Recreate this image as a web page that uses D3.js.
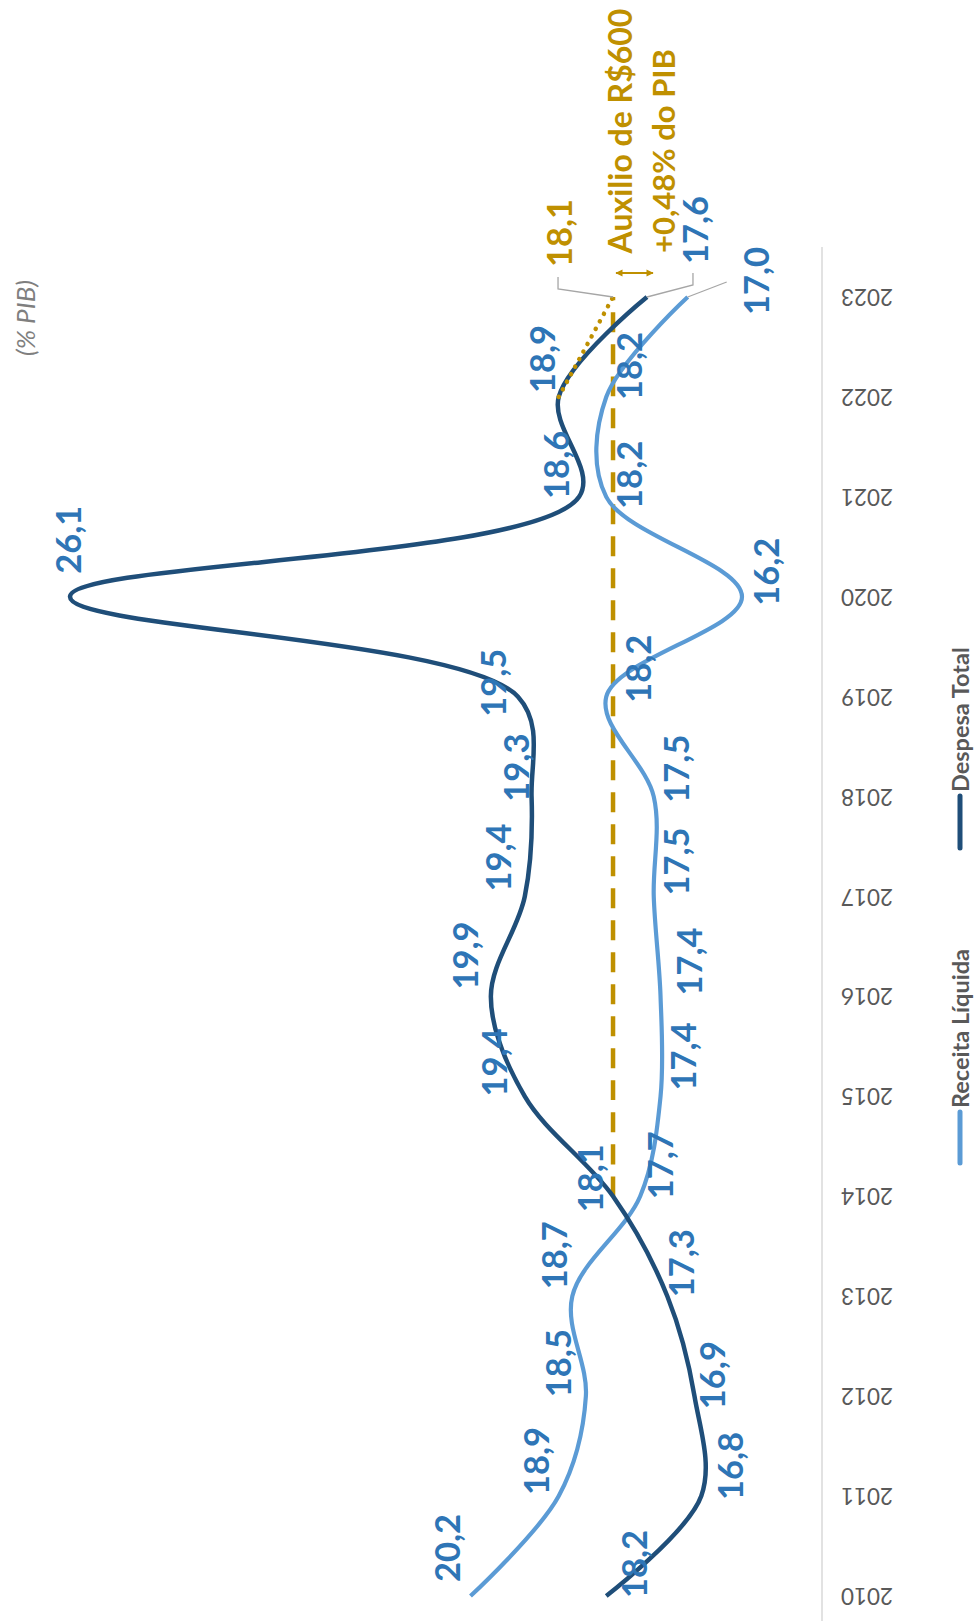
<!DOCTYPE html>
<html>
<head>
<meta charset="utf-8">
<script src="https://cdn.jsdelivr.net/npm/d3@7"></script>
<style>
  html, body { margin: 0; padding: 0; background: #ffffff; }
  svg { display: block; font-family: Lato, "Open Sans", sans-serif; }
</style>
</head>
<body>
<svg id="chart" width="975" height="1621"></svg>
<script>
// ---------------- DATA ----------------
const years = [2010, 2011, 2012, 2013, 2014, 2015, 2016, 2017, 2018, 2019, 2020, 2021, 2022, 2023];
const despesaTotal = [18.2, 16.8, 16.9, 17.3, 18.1, 19.4, 19.9, 19.4, 19.3, 19.5, 26.1, 18.6, 18.9, 17.6];
const receitaLiquida = [20.2, 18.9, 18.5, 18.7, 17.7, 17.4, 17.4, 17.5, 17.5, 18.2, 16.2, 18.2, 18.2, 17.0];
const referenciaYears = [2014, 2015, 2016, 2017, 2018, 2019, 2020, 2021, 2022, 2023];
const referenciaValues = [18.1, 18.1, 18.1, 18.1, 18.1, 18.1, 18.1, 18.1, 18.1, 18.1];
const auxilioYears = [2022, 2023];
const auxilioValues = [18.9, 18.1];
const seriesNames = ["Receita Líquida", "Despesa Total"];
const unitLabel = "(% PIB)";
const auxilioText = ["Auxilio de R$600", "+0,48% do PIB"];

// ---------------- LAYOUT / STYLE ----------------
const W = 975, H = 1621;
const C = {
  dark: "#1F4E79", light: "#5B9BD5", label: "#2E75B6", gold: "#BF9000",
  axis: "#D9D9D9", text: "#595959", leader: "#A6A6A6", unit: "#7F7F7F"
};
// label offsets (screen px) from each data point, 2010..2022
const despesaLabelOffsets = [[27,-32],[28,-30],[17,-21],[13,-33],[-24,-18],[-31,-34],[-26,-41],[-27,-39],[-16,-29],[-26,-14],[-3,-57],[-24,-32],[-17,-38]];
const receitaLabelOffsets = [[-24,-48],[-23,-35],[-28,-33],[-19,-41],[19,-31],[22,-40],[28,-35],[22,-35],[22,-28],[31,-28],[23,-25],[22,-22],[22,-31]];

const svg = d3.select("#chart");
const y = d3.scaleLinear().domain([2010, 2023]).range([1596, 297]);   // years run bottom -> top
const x = d3.scaleLinear().domain([16.2, 26.1]).range([742, 70]);     // values run right -> left
const fmt = v => d3.format(".1f")(v).replace(".", ",");

// ---- axis (years) ----
const axisX = 822;
svg.append("line")
  .attr("x1", axisX).attr("x2", axisX)
  .attr("y1", y(2023.5)).attr("y2", y(2009.75))
  .attr("stroke", C.axis).attr("stroke-width", 1.5);
const axisG = svg.append("g").attr("transform", `translate(${axisX},0)`)
  .call(d3.axisRight(y).tickValues(years).tickSize(0).tickPadding(45).tickFormat(d3.format("d")));
axisG.select(".domain").remove();
axisG.selectAll("text")
  .attr("x", 0).attr("dy", null)
  .attr("transform", d => `translate(45,0) rotate(180)`)
  .attr("text-anchor", "middle").attr("dominant-baseline", "central")
  .attr("fill", C.text).style("font-size", "22.5px").style("font-family", "Lato, sans-serif");

// ---- lines ----
const curve = d3.curveCatmullRom.alpha(0.5);
const line = d3.line().x(d => x(d[1])).y(d => y(d[0])).curve(curve);
const despesaPts = years.map((yr, i) => [yr, despesaTotal[i]]);
const receitaPts = years.map((yr, i) => [yr, receitaLiquida[i]]);
const refPts = referenciaYears.map((yr, i) => [yr, referenciaValues[i]]);
const auxPts = auxilioYears.map((yr, i) => [yr, auxilioValues[i]]);

svg.append("path").attr("d", line(refPts)).attr("fill", "none")
  .attr("stroke", C.gold).attr("stroke-width", 4.5).attr("stroke-dasharray", "20 12");
svg.append("path").attr("d", line(receitaPts)).attr("fill", "none")
  .attr("stroke", C.light).attr("stroke-width", 4.2).attr("stroke-linecap", "butt");
svg.append("path").attr("d", line(despesaPts)).attr("fill", "none")
  .attr("stroke", C.dark).attr("stroke-width", 4.5).attr("stroke-linecap", "butt");
svg.append("path").attr("d", d3.line().x(d => x(d[1])).y(d => y(d[0]))(auxPts)).attr("fill", "none")
  .attr("stroke", C.gold).attr("stroke-width", 4.5).attr("stroke-linecap", "round")
  .attr("stroke-dasharray", "0.1 8.5");

// ---- data labels ----
function vText(px, py, txt, size, color, weight, anchor, style) {
  return svg.append("text")
    .attr("transform", `translate(${px},${py}) rotate(-90)`)
    .attr("text-anchor", anchor || "middle").attr("dominant-baseline", "central")
    .attr("fill", color).style("font-size", size + "px").style("font-weight", weight || 700)
    .style("font-style", style || "normal")
    .text(txt);
}
const LBL = 34.5;
despesaPts.slice(0, 13).forEach((p, i) => {
  const o = despesaLabelOffsets[i];
  vText(x(p[1]) + o[0], y(p[0]) + o[1], fmt(p[1]), LBL, C.label);
});
receitaPts.slice(0, 13).forEach((p, i) => {
  const o = receitaLabelOffsets[i];
  vText(x(p[1]) + o[0], y(p[0]) + o[1], fmt(p[1]), LBL, C.label);
});

// ---- callouts for 2023 ----
const leader = (pts) => svg.append("path").attr("d", d3.line()(pts)).attr("fill", "none")
  .attr("stroke", C.leader).attr("stroke-width", 1.3);
const dEnd = [x(despesaTotal[13]), y(2023)];
const rEnd = [x(receitaLiquida[13]), y(2023)];
const aEnd = [x(auxilioValues[1]), y(2023)];
leader([[aEnd[0] - 55, aEnd[1] - 20], [aEnd[0] - 55, aEnd[1] - 8], aEnd]);
vText(aEnd[0] - 55, aEnd[1] - 64, fmt(auxilioValues[1]), LBL, C.gold);
leader([[dEnd[0] + 46, dEnd[1] - 24], [dEnd[0] + 46, dEnd[1] - 12], dEnd]);
vText(dEnd[0] + 48, dEnd[1] - 67, fmt(despesaTotal[13]), LBL, C.label);
leader([[rEnd[0] + 39, rEnd[1] - 15], rEnd]);
vText(rEnd[0] + 68, rEnd[1] - 16, fmt(receitaLiquida[13]), LBL, C.label);

// double-headed arrow between auxilio end and despesa end
const defs = svg.append("defs");
["s", "e"].forEach(k => {
  defs.append("marker").attr("id", "arr" + k).attr("viewBox", "0 0 10 10")
    .attr("refX", 9).attr("refY", 5).attr("markerWidth", 4).attr("markerHeight", 4)
    .attr("orient", k === "s" ? "auto-start-reverse" : "auto")
    .append("path").attr("d", "M0,0 L10,5 L0,10 z").attr("fill", C.gold);
});
svg.append("line")
  .attr("x1", aEnd[0] + 3).attr("x2", dEnd[0] + 6)
  .attr("y1", y(2023) - 24).attr("y2", y(2023) - 24)
  .attr("stroke", C.gold).attr("stroke-width", 1.8)
  .attr("marker-start", "url(#arrs)").attr("marker-end", "url(#arre)");

vText(aEnd[0] + 6, 131, auxilioText[0], 32, C.gold);
vText(aEnd[0] + 50, 151, auxilioText[1], 31, C.gold);

// ---- unit label ----
vText(25, 318, unitLabel, 26, C.unit, 400, "middle", "italic");

// ---- legend ----
const legendX = 960;
const legend = [
  { name: seriesNames[1], color: C.dark, y0: 848, y1: 796 },
  { name: seriesNames[0], color: C.light, y0: 1163, y1: 1112 }
];
legend.forEach(l => {
  svg.append("line").attr("x1", legendX).attr("x2", legendX).attr("y1", l.y0).attr("y2", l.y1)
    .attr("stroke", l.color).attr("stroke-width", 5).attr("stroke-linecap", "round");
  vText(legendX, l.y1 - 4, l.name, 23.5, C.text, 700, "start");
});
</script>
</body>
</html>
